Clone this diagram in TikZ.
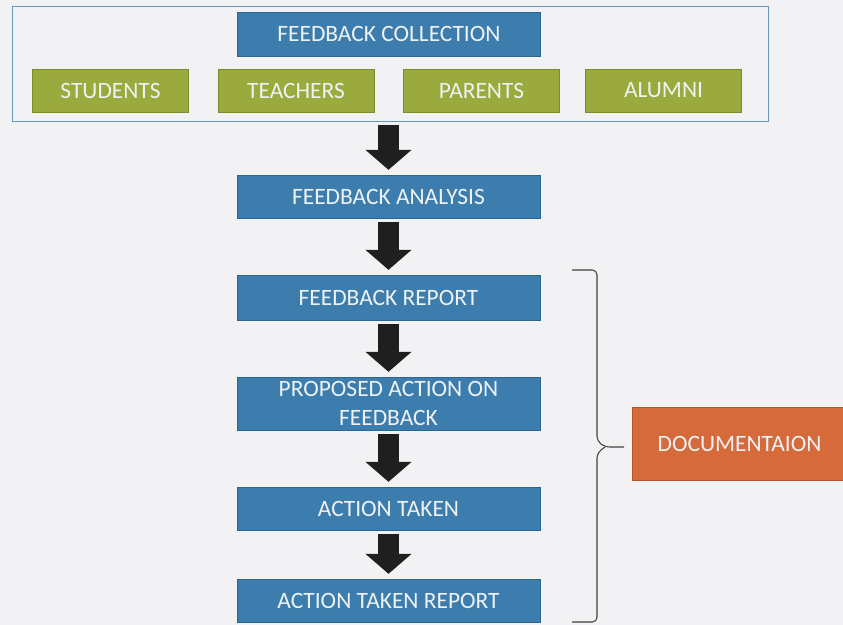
\documentclass[tikz,border=0pt]{standalone}
\usepackage{fontspec}
\setmainfont{Carlito}
\usetikzlibrary{arrows.meta, positioning, calc}

\definecolor{paper}{HTML}{F2F2F4}
\definecolor{boxblue}{HTML}{3C7DAD}
\definecolor{boxblueline}{HTML}{2C6690}
\definecolor{boxgreen}{HTML}{9AAA3C}
\definecolor{boxgreenline}{HTML}{7C8B2A}
\definecolor{boxorange}{HTML}{D66A3A}
\definecolor{boxorangeline}{HTML}{B5532A}
\definecolor{framecol}{HTML}{6B95B9}
\definecolor{boxtext}{HTML}{EEF2F4}

\tikzset{
  base/.style={draw, line width=0.8pt, text=boxtext, align=center, inner sep=0pt,
    font=\fontsize{20}{24}\selectfont},
  bluebox/.style={base, fill=boxblue, draw=boxblueline, minimum width=9.09cm, minimum height=1.29cm},
  greenbox/.style={base, fill=boxgreen, draw=boxgreenline, minimum width=4.68cm, minimum height=1.29cm},
  docbox/.style={base, fill=boxorange, draw=boxorangeline, minimum width=6.45cm, minimum height=2.19cm},
  flow/.style={line width=0.64cm, black!88, -{Triangle[width=1.35cm, length=0.6cm]},
    shorten <=3pt, shorten >=4pt},
}

\begin{document}
\begin{tikzpicture}[x=0.03cm, y=-0.03cm]
  \useasboundingbox[fill=paper] (0,0) rectangle (843,625);
  % Collection stage
  \node[draw=framecol, line width=0.7pt, minimum width=22.68cm, minimum height=3.45cm] (frame) at (390,63.5) {};
  \node[bluebox, minimum height=1.32cm] (collect) at (389,34) {FEEDBACK COLLECTION};
  \node[greenbox] (students) at (110.5,90.5) {STUDENTS};
  \node[greenbox] (teachers) at (296,90.5) {TEACHERS};
  \node[greenbox] (parents) at (481.5,90.5) {PARENTS};
  \node[greenbox] (alumni) at (663.5,90.5) {ALUMNI};
  % Main flow
  \node[bluebox] (analysis) at (388.5,196.5) {FEEDBACK ANALYSIS};
  \node[bluebox, minimum height=1.35cm] (report) at (388.5,297.5) {FEEDBACK REPORT};
  \node[bluebox, minimum height=1.59cm] (proposed) at (388.5,403.5) {PROPOSED ACTION ON\\FEEDBACK};
  \node[bluebox] (taken) at (388.5,508.5) {ACTION TAKEN};
  \node[bluebox] (takenrep) at (388.5,600.5) {ACTION TAKEN REPORT};
  % Documentation
  \node[docbox] (doc) at (739.5,443.5) {DOCUMENTAION};
  % Arrows
  \draw[flow] (frame.south -| analysis) -- (analysis.north);
  \draw[flow] (analysis) -- (report);
  \draw[flow] (report) -- (proposed);
  \draw[flow] (proposed) -- (taken);
  \draw[flow] (taken) -- (takenrep);
  % Brace
  \coordinate (bracetip) at (624,447);
  \draw[black!75, line width=0.9pt, rounded corners=4]
    (572,270) -- (597,270) -- (597,441) -- (605,447) -- (bracetip);
  \draw[black!75, line width=0.9pt, rounded corners=4]
    (572,622) -- (597,622) -- (597,453) -- (605,447);
\end{tikzpicture}
\end{document}
